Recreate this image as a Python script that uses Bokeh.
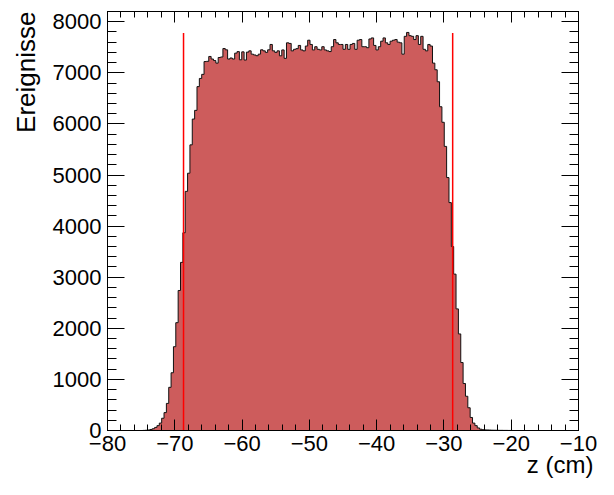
import numpy as np
from bokeh.plotting import figure
from bokeh.models import Range1d, LinearAxis, SingleIntervalTicker, ColumnDataSource, Title
from bokeh.embed import file_html
from bokeh.resources import INLINE

# ---------------- data ----------------
bin_low = -80.0
bin_width = 0.35
counts = [
    0, 0, 0, 0, 0, 0, 0, 0, 0, 0, 0, 0, 0, 0, 0,
    2, 5, 10, 20, 35, 60, 95, 145, 240, 350, 530, 845, 1130, 1640, 2110,
    2740, 3290, 3870, 4680, 5035, 5590, 6095, 6265, 6730, 6890, 6970,
    7220, 7225, 7320, 7270, 7240, 7190, 7300, 7310, 7475, 7450,
    7270, 7290, 7270, 7385, 7415, 7255, 7410, 7250, 7405, 7430,
    7365, 7350, 7335, 7365, 7450, 7430, 7400, 7450, 7555, 7430,
    7400, 7430, 7333, 7448, 7283, 7587, 7575, 7430, 7460, 7473,
    7536, 7448, 7430, 7524, 7638, 7555, 7448, 7511, 7460, 7448,
    7511, 7448, 7430, 7416, 7511, 7651, 7587, 7555, 7555, 7460,
    7555, 7460, 7555, 7575, 7460, 7638, 7651, 7511, 7511, 7492,
    7663, 7683, 7536, 7448, 7511, 7619, 7683, 7587, 7555, 7619,
    7638, 7651, 7600, 7587, 7365, 7714, 7790, 7727, 7714, 7651,
    7727, 7555, 7714, 7460, 7430, 7555, 7524, 7190, 7060, 6825,
    6336, 6032, 5560, 4950, 4460, 3600, 3060, 2380, 1890, 1330,
    920, 670, 445, 255, 145, 95, 50, 25, 15, 12,
    10, 8, 6, 5, 4, 3, 3, 2, 2, 1, 1,
    0, 0, 0, 0, 0, 0, 0, 0, 0, 0, 0, 0, 0, 0,
    0, 0, 0, 0, 0, 0, 0, 0, 0, 0, 0, 0, 0, 0,
]
cut_positions = [-68.7, -28.7]
cut_tops = [7780, 7780]

x_ticks = [-80, -70, -60, -50, -40, -30, -20, -10]
x_tick_labels = ["\u221280", "\u221270", "\u221260", "\u221250", "\u221240", "\u221230", "\u221220", "\u221210"]
y_ticks = [0, 1000, 2000, 3000, 4000, 5000, 6000, 7000, 8000]
y_tick_labels = ["0", "1000", "2000", "3000", "4000", "5000", "6000", "7000", "8000"]
x_title = "z (cm)"
y_title = "Ereignisse"

# ---------------- geometry ----------------
n = len(counts)
left = bin_low + bin_width * np.arange(n)
right = left + bin_width
step_x = np.concatenate([[left[0]], left, [right[-1]]])
step_y = np.concatenate([[0], counts, [0]])
src = ColumnDataSource(dict(x=step_x, y=step_y, y0=np.zeros(len(step_y))))

FONT = "Liberation Sans"

p = figure(width=598, height=479,
           x_range=Range1d(-80, -10), y_range=Range1d(0, 8200),
           output_backend="svg", toolbar_location=None,
           min_border_left=106, min_border_right=20,
           min_border_top=11, min_border_bottom=49)
p.xgrid.visible = False
p.ygrid.visible = False
p.outline_line_color = "black"
p.outline_line_width = 1
p.background_fill_color = "white"
p.border_fill_color = "white"

p.varea_step(x="x", y1="y0", y2="y", step_mode="after", source=src,
             fill_color="#CD5C5C")
p.step(x="x", y="y", mode="after", source=src, line_color="#111111", line_width=1)

p.segment(x0=cut_positions, y0=[0] * len(cut_positions), x1=cut_positions, y1=cut_tops,
          line_color="#FF0000", line_width=1.5)

xover = {float(v): s for v, s in zip(x_ticks, x_tick_labels)}
yover = {float(v): s for v, s in zip(y_ticks, y_tick_labels)}

def style_axis(ax, major, minor):
    ax.major_tick_in = major
    ax.major_tick_out = 0
    ax.minor_tick_in = minor
    ax.minor_tick_out = 0
    ax.axis_line_color = "black"
    ax.major_tick_line_color = "black"
    ax.minor_tick_line_color = "black"
    ax.major_label_text_font = FONT
    ax.major_label_text_font_size = "22px"
    ax.major_label_text_color = "black"

xa = p.xaxis[0]
xa.ticker = SingleIntervalTicker(interval=10, num_minor_ticks=5)
xa.major_label_overrides = xover
style_axis(xa, 11, 6)
xa.major_label_standoff = 5

ya = p.yaxis[0]
ya.ticker = SingleIntervalTicker(interval=1000, num_minor_ticks=5)
ya.major_label_overrides = yover
style_axis(ya, 17, 9)
ya.major_label_standoff = 6

# mirrored tick-only axes (top and right), ROOT style
top_ax = LinearAxis(ticker=SingleIntervalTicker(interval=10, num_minor_ticks=5))
style_axis(top_ax, 11, 6)
top_ax.major_label_text_font_size = "1px"
top_ax.major_label_text_color = None
top_ax.major_label_standoff = 0
p.add_layout(top_ax, "above")

right_ax = LinearAxis(ticker=SingleIntervalTicker(interval=1000, num_minor_ticks=5))
style_axis(right_ax, 17, 9)
right_ax.major_label_text_font_size = "1px"
right_ax.major_label_text_color = None
right_ax.major_label_standoff = 0
p.add_layout(right_ax, "right")

xt = Title(text=x_title, align="right", offset=-15, standoff=-9,
           text_font=FONT, text_font_size="24px", text_font_style="normal",
           text_color="black")
p.add_layout(xt, "below")

yt = Title(text=y_title, align="right", offset=0, standoff=17,
           text_font=FONT, text_font_size="26px", text_font_style="normal",
           text_color="black")
p.add_layout(yt, "left")

open("out.html", "w").write(file_html(p, INLINE))
